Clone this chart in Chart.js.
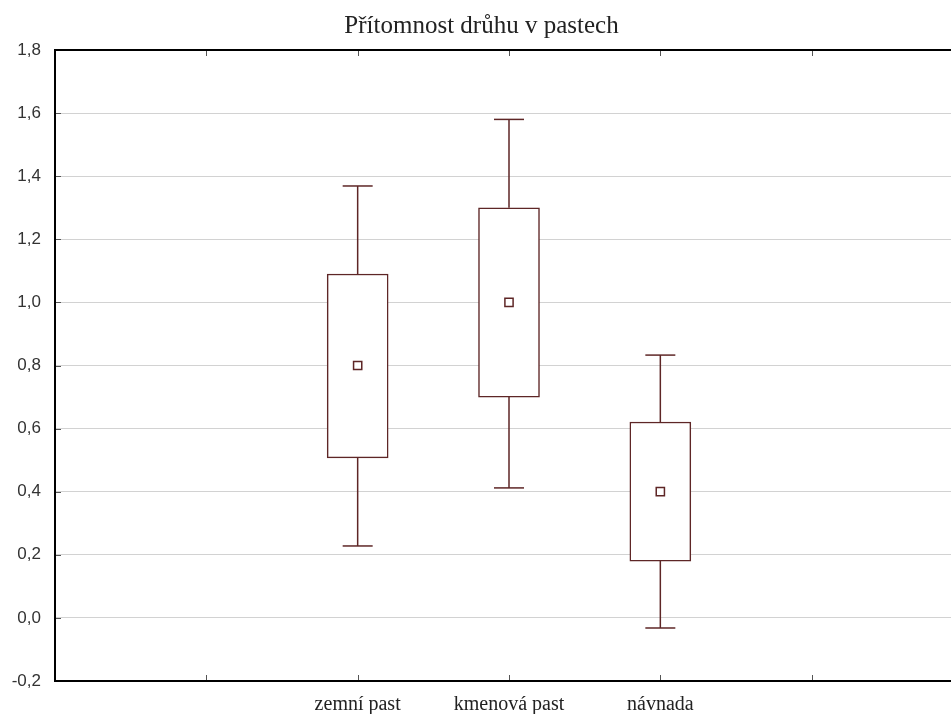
<!DOCTYPE html>
<html><head><meta charset="utf-8">
<script src="https://cdn.jsdelivr.net/npm/chart.js@4.4.1/dist/chart.umd.min.js"></script>
<style>html,body{margin:0;padding:0;overflow:hidden;background:#fff}#wrap{width:966px;height:714px}</style>
</head><body><div id="wrap"><canvas id="c" width="966" height="714"></canvas></div>
<script>
const chartTitle = 'Přítomnost drůhu v pastech';
const categories = ['zemní past', 'kmenová past', 'návnada'];
const means = [0.80, 1.00, 0.40];
const boxLow = [0.507, 0.700, 0.180];
const boxHigh = [1.090, 1.300, 0.621];
const whiskerLow = [0.228, 0.412, -0.032];
const whiskerHigh = [1.369, 1.580, 0.833];
const yMin = -0.2, yMax = 1.8, yStep = 0.2;

// layout: categories occupy slots 2..4 of an axis running 0..6
const slotOffset = 2, xMin = 0, xMax = 6;
const ink = '#5e2626';

const xOf = i => i + slotOffset;
const boxData = categories.map((c, i) => ({x: xOf(i), y: [boxLow[i], boxHigh[i]]}));
const whiskerData = categories.flatMap((c, i) => [
  {x: xOf(i), y: boxHigh[i]}, {x: xOf(i), y: whiskerHigh[i]}, {x: xOf(i), y: null},
  {x: xOf(i), y: boxLow[i]}, {x: xOf(i), y: whiskerLow[i]}, {x: xOf(i), y: null}
]);
const capData = categories.flatMap((c, i) => [
  {x: xOf(i), y: whiskerHigh[i]}, {x: xOf(i), y: whiskerLow[i]}
]);
const meanData = categories.map((c, i) => ({x: xOf(i), y: means[i]}));

const frame = {
  id: 'frame',
  afterDraw(chart) {
    const {ctx, chartArea: {left, right, top, bottom}, scales: {x, y}} = chart;
    ctx.save();
    ctx.strokeStyle = '#555';
    ctx.lineWidth = 1;
    ctx.beginPath();
    for (let v = xMin + 1; v < xMax; v++) {
      const px = Math.round(x.getPixelForValue(v)) + 0.5;
      ctx.moveTo(px, top); ctx.lineTo(px, top + 6);
      ctx.moveTo(px, bottom); ctx.lineTo(px, bottom - 6);
    }
    y.ticks.forEach(t => {
      const py = Math.round(y.getPixelForValue(t.value)) + 0.5;
      ctx.moveTo(left, py); ctx.lineTo(left + 6, py);
    });
    ctx.stroke();
    ctx.strokeStyle = '#000';
    ctx.lineWidth = 2;
    ctx.beginPath();
    ctx.moveTo(right + 10, top); ctx.lineTo(left, top);
    ctx.lineTo(left, bottom); ctx.lineTo(right + 10, bottom);
    ctx.stroke();
    ctx.restore();
  }
};

new Chart(document.getElementById('c'), {
  type: 'bar',
  data: {
    datasets: [
      {type: 'bar', data: boxData, backgroundColor: '#ffffff', borderColor: ink, borderWidth: 1.5,
       borderSkipped: false, barThickness: 61, order: 3},
      {type: 'line', data: whiskerData, borderColor: ink, borderWidth: 1.5, pointRadius: 0,
       spanGaps: false, fill: false, order: 2},
      {type: 'scatter', data: capData, pointStyle: 'line', pointRadius: 15, borderColor: ink,
       pointBorderWidth: 1.5, borderWidth: 1.5, order: 1},
      {type: 'scatter', data: meanData, pointStyle: 'rect', pointRadius: 5.8, backgroundColor: '#ffffff',
       borderColor: ink, borderWidth: 1.5, order: 0}
    ]
  },
  options: {
    responsive: false,
    animation: false,
    layout: {autoPadding: false, padding: {left: 0, right: 3, top: 0, bottom: 0}},
    plugins: {
      legend: {display: false},
      tooltip: {enabled: false},
      title: {display: true, text: chartTitle, color: '#222',
        font: {family: 'Liberation Serif', size: 25, weight: 'normal'},
        padding: {top: 11, bottom: 9}}
    },
    scales: {
      x: {
        type: 'linear', min: xMin, max: xMax, offset: false,
        afterFit(s) { s.height = 33; s.paddingLeft = 0; s.paddingRight = 0; },
        grid: {display: false, drawTicks: false, offset: false},
        border: {display: false},
        ticks: {stepSize: 1, autoSkip: false, maxRotation: 0, padding: 12, color: '#222',
          font: {family: 'Liberation Serif', size: 20},
          callback: v => categories[v - slotOffset] ?? ''}
      },
      y: {
        min: yMin, max: yMax,
        afterFit(s) { s.width = 55; },
        grid: {color: '#d2d2d2', lineWidth: 1, drawTicks: false},
        border: {display: false},
        ticks: {stepSize: yStep, padding: 14, color: '#333',
          font: {family: 'Liberation Sans', size: 17},
          callback: v => (Math.round(v * 10) / 10).toFixed(1).replace('.', ',')}
      }
    }
  },
  plugins: [frame]
});
</script></body></html>
